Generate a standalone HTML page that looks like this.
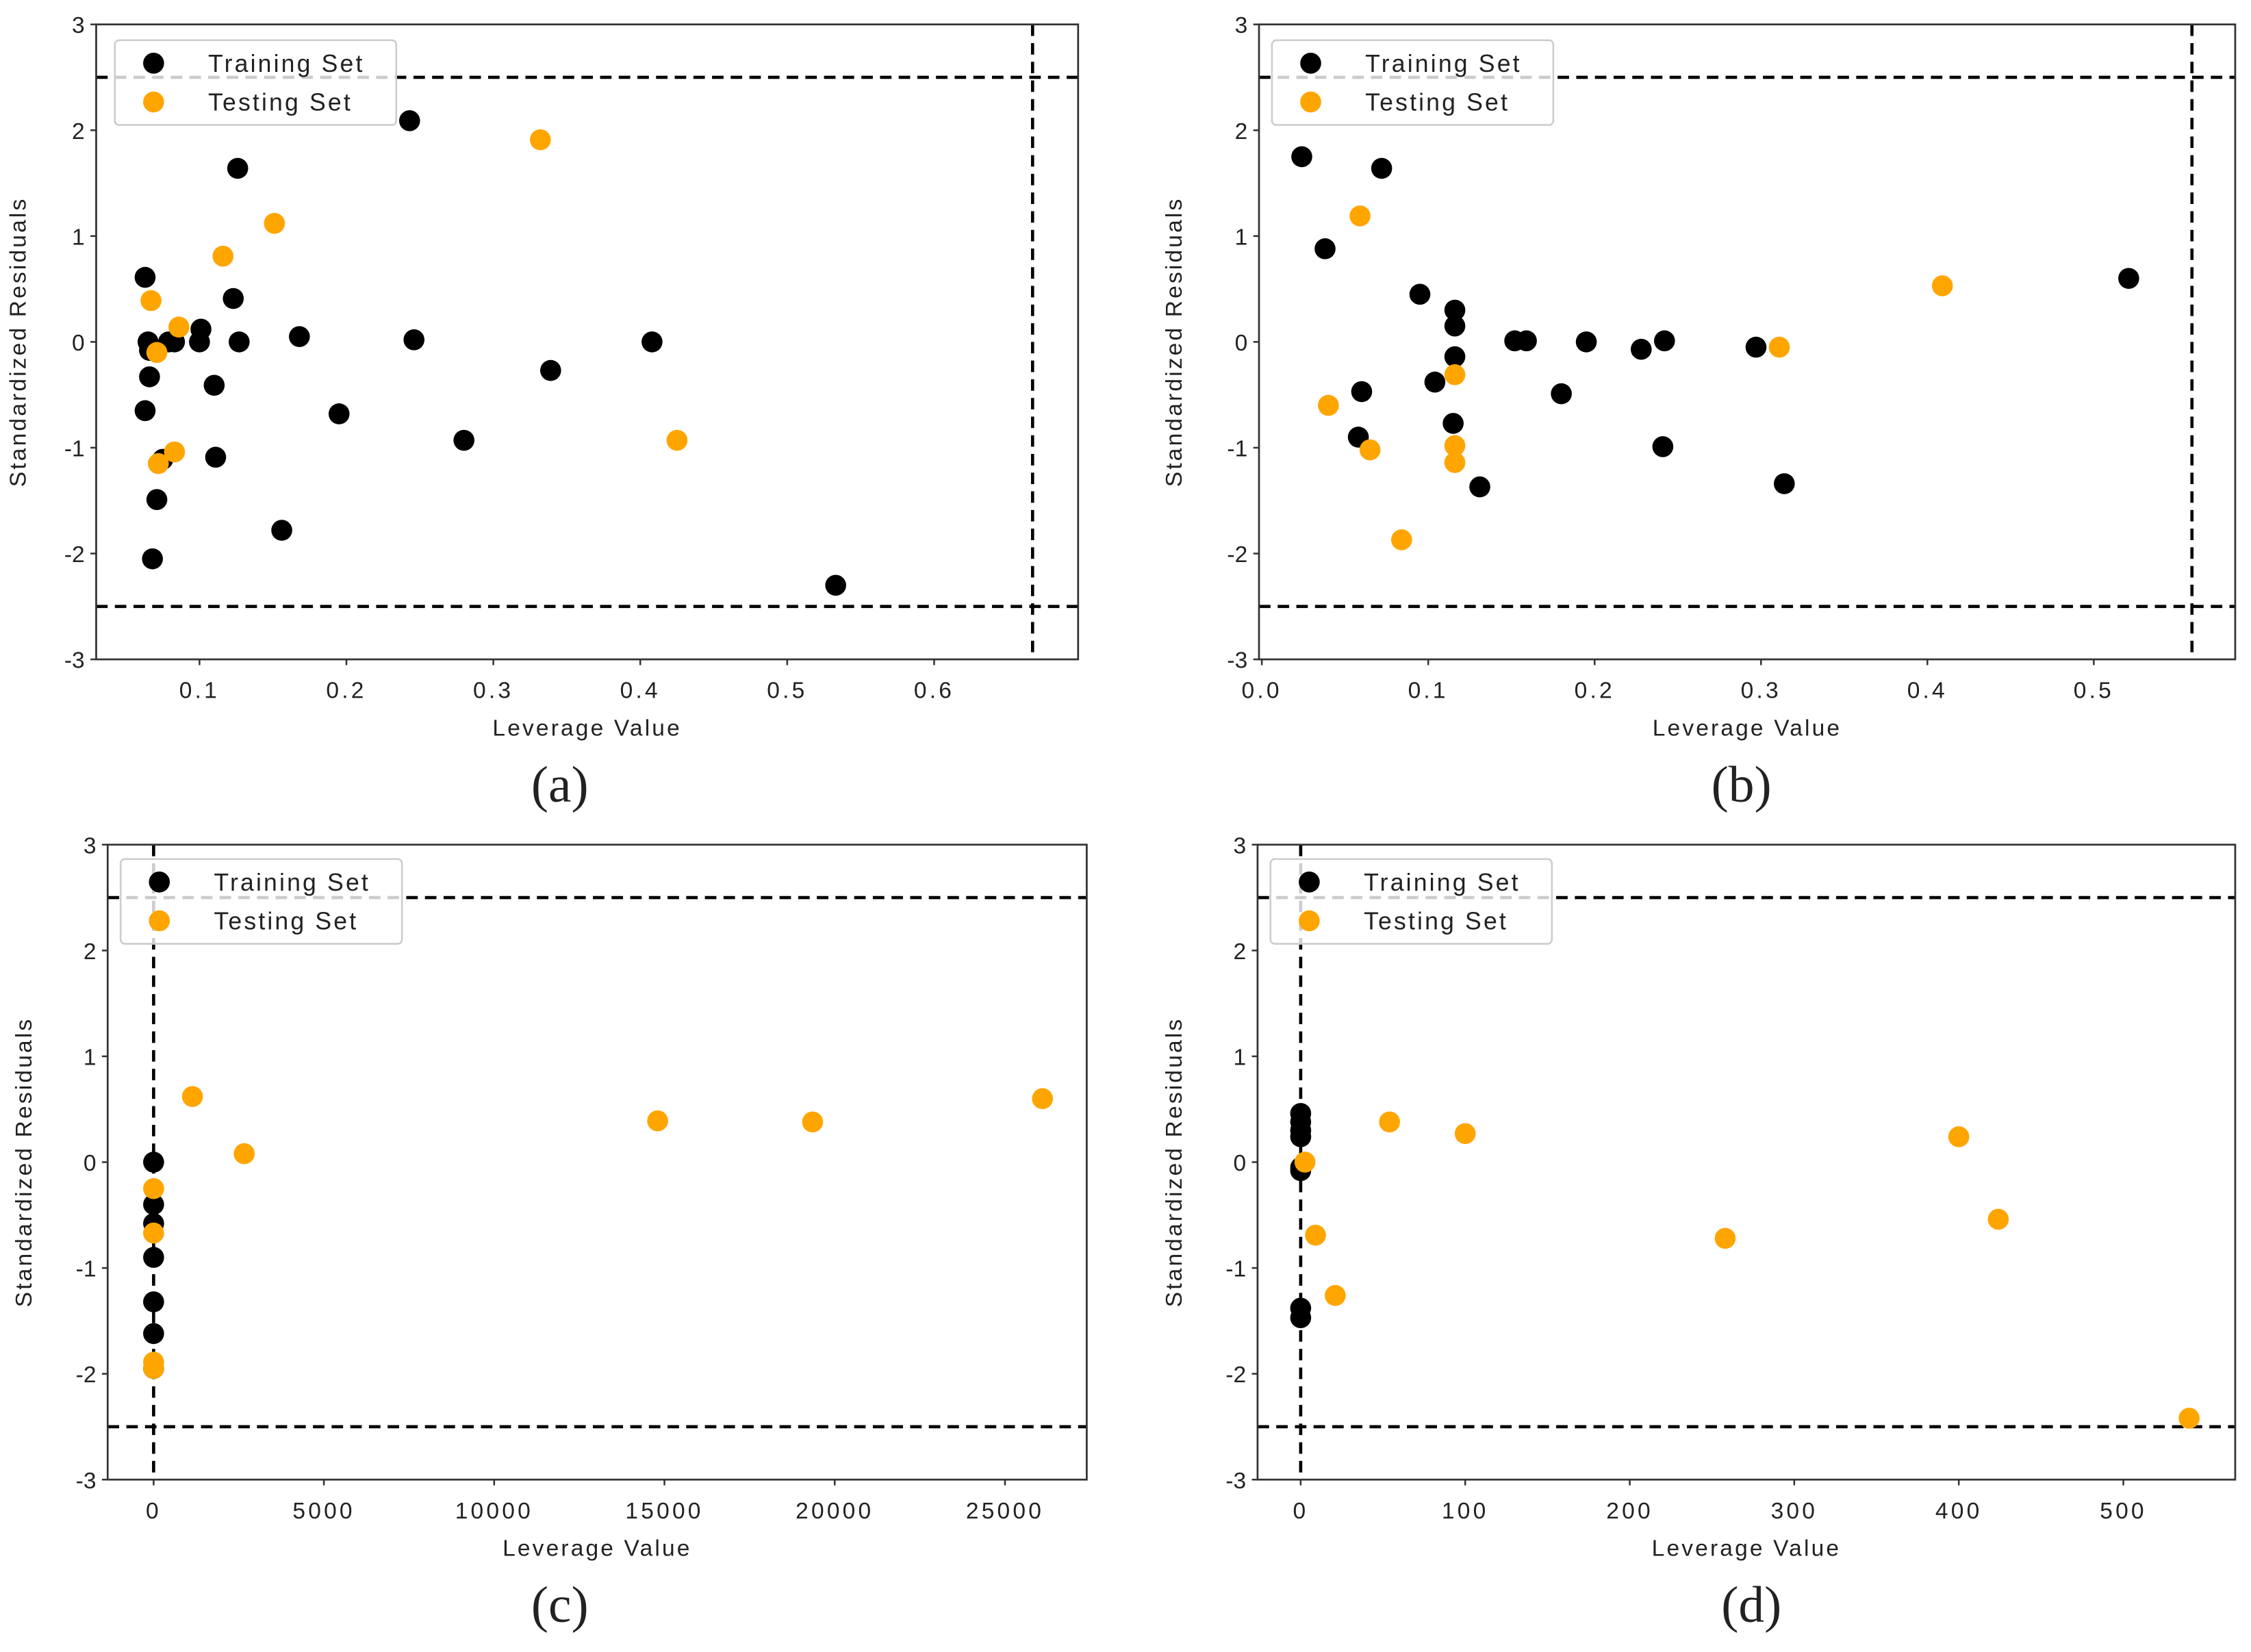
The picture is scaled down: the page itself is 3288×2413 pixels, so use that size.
<!DOCTYPE html>
<html><head><meta charset="utf-8">
<style>
html,body{margin:0;padding:0;background:#fff;}
svg{display:block;}
text{font-family:"Liberation Sans","Noto Sans CJK SC",sans-serif;fill:#222;}
</style></head>
<body>
<svg id="chart" width="3288" height="2413" viewBox="0 0 1568 1150" preserveAspectRatio="none" xmlns="http://www.w3.org/2000/svg"></svg>
<script>
// Panel (a)
const aTrainX=[.063,.065,.066,.066,.063,.068,.071,.075,.079,.083,.1,.101,.11,.111,.123,.126,.127,.156,.168,.195,.243,.246,.28,.339,.408,.533];
const aTrainY=[.61,0,-.08,-.33,-.65,-2.05,-1.49,-1.11,0,0,0,.12,-.41,-1.09,.41,1.64,0,-1.78,.05,-.68,2.09,.02,-.93,-.27,0,-2.3];
const aTestX=[.067,.071,.072,.083,.086,.116,.151,.332,.425];
const aTestY=[.39,-.1,-1.15,-1.04,.14,.81,1.12,1.91,-.93];
const aTicks=[0.1,0.2,0.3,0.4,0.5,0.6];
// Panel (b)
const bTrainX=[.024,.038,.072,.06,.058,.095,.104,.116,.116,.116,.115,.131,.152,.159,.18,.195,.228,.241,.242,.297,.314,.521];
const bTrainY=[1.75,.88,1.64,-.47,-.9,.45,-.38,.3,.15,-.14,-.77,-1.37,.01,.01,-.49,0,-.07,-.99,.01,-.05,-1.34,.6];
const bTestX=[.04,.059,.065,.084,.116,.116,.116,.311,.409];
const bTestY=[-.6,1.19,-1.02,-1.87,-.31,-.98,-1.14,-.05,.53];
const bTicks=[0,0.1,0.2,0.3,0.4,0.5];
// Panel (c)
const cTrainX=[0,0,0,0,0,0,0];
const cTrainY=[0,-.4,-.58,-.9,-1.32,-1.62,-1.95];
const cTestX=[0,0,0,0,1140,2660,14800,19350,26100];
const cTestY=[-.25,-.67,-1.89,-1.95,.62,.08,.39,.38,.6];
const cTicks=[0,5000,10000,15000,20000,25000];
// Panel (d)
const dTrainX=[0,0,0,0,0,0,0,0];
const dTrainY=[.46,.38,.3,.24,-.05,-.08,-1.38,-1.47];
const dTestX=[2.6,9,21,54,100,258,400,424,540];
const dTestY=[0,-.69,-1.26,.38,.27,-.72,.24,-.54,-2.42];
const dTicks=[0,100,200,300,400,500];
const yTicks=[-3,-2,-1,0,1,2,3];

const svg=document.getElementById('chart');
const NS='http://www.w3.org/2000/svg';
function mk(tag,attrs,parent,txt){const e=document.createElementNS(NS,tag);for(const k in attrs)e.setAttribute(k,attrs[k]);if(txt!==undefined)e.textContent=txt;parent.appendChild(e);return e;}

function panel(id,box,xmin,xmax,vline,ticks,tickFmt,trX,trY,teX,teY,legend,ylx,letter,letterX){
  const g=mk('g',{},svg);
  
  
  const [L,R,T,B]=box;
  const sx=v=>L+(v-xmin)/(xmax-xmin)*(R-L);
  const sy=v=>B-(v+3)/6*(B-T);
  [2.5,-2.5].forEach(v=>{const l=mk('line',{x1:L,x2:R,y1:sy(v),y2:sy(v),stroke:'#000','stroke-width':2.2,'stroke-dasharray':'8,5'},g);
    
    });
  const vl=mk('line',{x1:sx(vline),x2:sx(vline),y1:T,y2:B,stroke:'#000','stroke-width':2.2,'stroke-dasharray':'8,5'},g);
  
  
  for(let i=0;i<trX.length;i++){const c=mk('circle',{cx:sx(trX[i]),cy:sy(trY[i]),r:7.3,fill:'#000'},g);
    
    }
  for(let i=0;i<teX.length;i++){const c=mk('circle',{cx:sx(teX[i]),cy:sy(teY[i]),r:7.3,fill:'#ffa500'},g);
    
    }
  const fr=mk('rect',{x:L,y:T,width:R-L,height:B-T,fill:'none',stroke:'#333','stroke-width':1.3},g);
  
  
  yTicks.forEach(v=>{mk('line',{x1:L-4,x2:L,y1:sy(v),y2:sy(v),stroke:'#333','stroke-width':1.2},g);
    const t=mk('text',{x:L-8,y:sy(v)+6,'text-anchor':'end','font-size':16},g,String(v));
    
    });
  ticks.forEach(v=>{mk('line',{x1:sx(v),x2:sx(v),y1:B,y2:B+4,stroke:'#333','stroke-width':1.2},g);
    const t=mk('text',{x:sx(v),y:B+27,'text-anchor':'middle','font-size':16,'letter-spacing':'2'},g,tickFmt(v));
    
    });
  const xl=mk('text',{x:(L+R)/2,y:B+53,'text-anchor':'middle','font-size':16,'letter-spacing':'1.5'},g,'Leverage Value');
  
  
  const yl=mk('text',{x:0,y:0,'text-anchor':'middle','font-size':16,'letter-spacing':'1.5',transform:`translate(${ylx},${(T+B)/2}) rotate(-90)`},g,'Standardized Residuals');
  
  
  const pl=mk('text',{x:letterX,y:B+99,'text-anchor':'middle','font-size':36,style:'font-family:"Liberation Serif",serif'},g,letter);
  
  
  const [lx,ly]=legend;
  const lg=mk('g',{},g);
  
  
  mk('rect',{x:lx,y:ly,width:196,height:59,rx:3,fill:'rgba(255,255,255,0.8)',stroke:'#ccc','stroke-width':1.2},lg);
  const e1=mk('circle',{cx:lx+27,cy:ly+16,r:7.3,fill:'#000'},lg);
  
  
  const t1=mk('text',{x:lx+65,y:ly+22,'font-size':17,'letter-spacing':'1.5'},lg,'Training Set');
  
  
  const e2=mk('circle',{cx:lx+27,cy:ly+43,r:7.3,fill:'#ffa500'},lg);
  
  
  const t2=mk('text',{x:lx+65,y:ly+49,'font-size':17,'letter-spacing':'1.5'},lg,'Testing Set');
  
  
}
const f1=v=>v.toFixed(1);
const f0=v=>String(v);
panel('a',[67,751,17,459],0.0297,0.698,0.667,aTicks,f1,aTrainX,aTrainY,aTestX,aTestY,[80,28],18,'(a)',390);
panel('b',[877,1557,17,459],-0.0017,0.585,0.559,bTicks,f1,bTrainX,bTrainY,bTestX,bTestY,[886,28],823,'(b)',1213);
panel('c',[75,757,588,1030],-1349,27400,0,cTicks,f0,cTrainX,cTrainY,cTestX,cTestY,[84,598],22,'(c)',390);
panel('d',[876,1557,588,1030],-26.2,568,0,dTicks,f0,dTrainX,dTrainY,dTestX,dTestY,[885,598],823,'(d)',1220);
</script>
</body></html>
